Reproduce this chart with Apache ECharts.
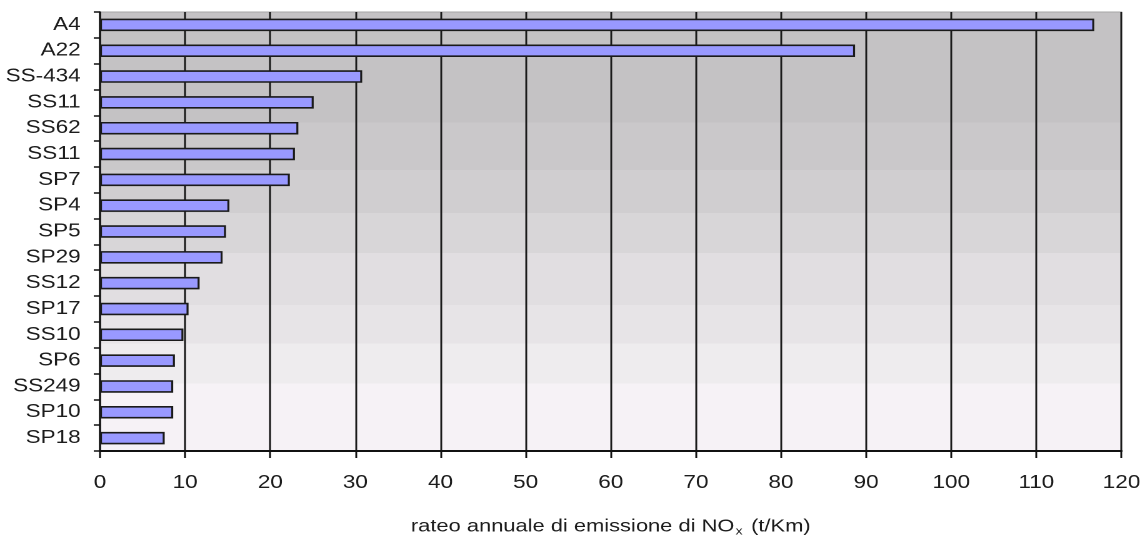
<!DOCTYPE html>
<html>
<head>
<meta charset="utf-8">
<title>Rateo annuale di emissione di NOx</title>
<script src="https://cdn.jsdelivr.net/npm/echarts@6/dist/echarts.min.js"></script>
<style>
  html, body { margin: 0; padding: 0; background: #ffffff; overflow: hidden; }
  #wrap { width: 1142px; height: 535px; overflow: hidden; }
  /* the chart is laid out narrower and widened horizontally, giving the wide lettering */
  #chart { width: 913.6px; height: 535px; transform: scaleX(1.25); transform-origin: 0 0; }
</style>
</head>
<body>
<div id="wrap"><div id="chart"></div></div>
<script>
// Road segments, top to bottom
const roads = ['A4', 'A22', 'SS-434', 'SS11', 'SS62', 'SS11', 'SP7', 'SP4', 'SP5', 'SP29',
               'SS12', 'SP17', 'SS10', 'SP6', 'SS249', 'SP10', 'SP18'];
// Annual NOx emission rate (t/Km)
const noxRate = [116.8, 88.7, 30.8, 25.1, 23.3, 22.9, 22.3, 15.2, 14.8, 14.4,
                 11.7, 10.4, 9.8, 8.8, 8.6, 8.6, 7.6];
// Value axis ticks
const xTicks = { min: 0, max: 120, step: 10 };

const FONT = "'Liberation Sans', Arial, sans-serif";
const TEXT = '#1c1c1c';

// stepped grey-to-white backdrop of the plot area
const bands = [
  [0.0000, '#c4c2c4'], [0.2528, '#cac8ca'], [0.3599, '#d0ced0'], [0.4579, '#d8d6d8'],
  [0.5490, '#e1dee1'], [0.6674, '#e7e4e7'], [0.7540, '#eeecee'], [0.8451, '#f6f2f6']
];
const stops = [];
bands.forEach(function (b, i) {
  const end = i + 1 < bands.length ? bands[i + 1][0] : 1;
  stops.push({ offset: b[0], color: b[1] });
  stops.push({ offset: end, color: b[1] });
});

const chart = echarts.init(document.getElementById('chart'), null, { devicePixelRatio: 2 });
chart.setOption({
  animation: false,
  backgroundColor: '#ffffff',
  grid: {
    left: 80, right: 16.8, top: 12, bottom: 84,
    outerBoundsMode: 'none',
    containLabel: false,
    show: true,
    borderColor: '#a6a6a6',
    borderWidth: 1,
    backgroundColor: { type: 'linear', x: 0, y: 0, x2: 0, y2: 1, colorStops: stops }
  },
  xAxis: {
    type: 'value',
    min: xTicks.min, max: xTicks.max, interval: xTicks.step,
    axisLine: { show: true, lineStyle: { color: '#111', width: 2 } },
    axisTick: { show: true, length: 7, lineStyle: { color: '#111', width: 1.5 } },
    axisLabel: { color: TEXT, fontFamily: FONT, fontSize: 18, margin: 23 },
    splitLine: { show: true, lineStyle: { color: '#1a1a1a', width: 1.5 } },
    name: 'rateo annuale di emissione di NO{sub|x} (t/Km)',
    nameLocation: 'middle',
    nameGap: 65,
    nameTextStyle: {
      color: TEXT, fontFamily: FONT, fontSize: 17.5,
      rich: {
        sub: { fontFamily: FONT, fontSize: 11, color: TEXT, verticalAlign: 'top', padding: [10, 2, 0, 1] }
      }
    }
  },
  yAxis: {
    type: 'category',
    data: roads,
    inverse: true,
    axisLine: { show: true, lineStyle: { color: '#111', width: 1.5 } },
    axisTick: { show: true, length: 5, lineStyle: { color: '#111', width: 1.5 } },
    axisLabel: { color: TEXT, fontFamily: FONT, fontSize: 18, margin: 15.5 },
    splitLine: { show: false }
  },
  series: [{
    type: 'bar',
    data: noxRate,
    barWidth: 12.5,
    itemStyle: { color: '#9999ff', borderColor: '#1a1a1a', borderWidth: 1.6 }
  }]
});
</script>
</body>
</html>
